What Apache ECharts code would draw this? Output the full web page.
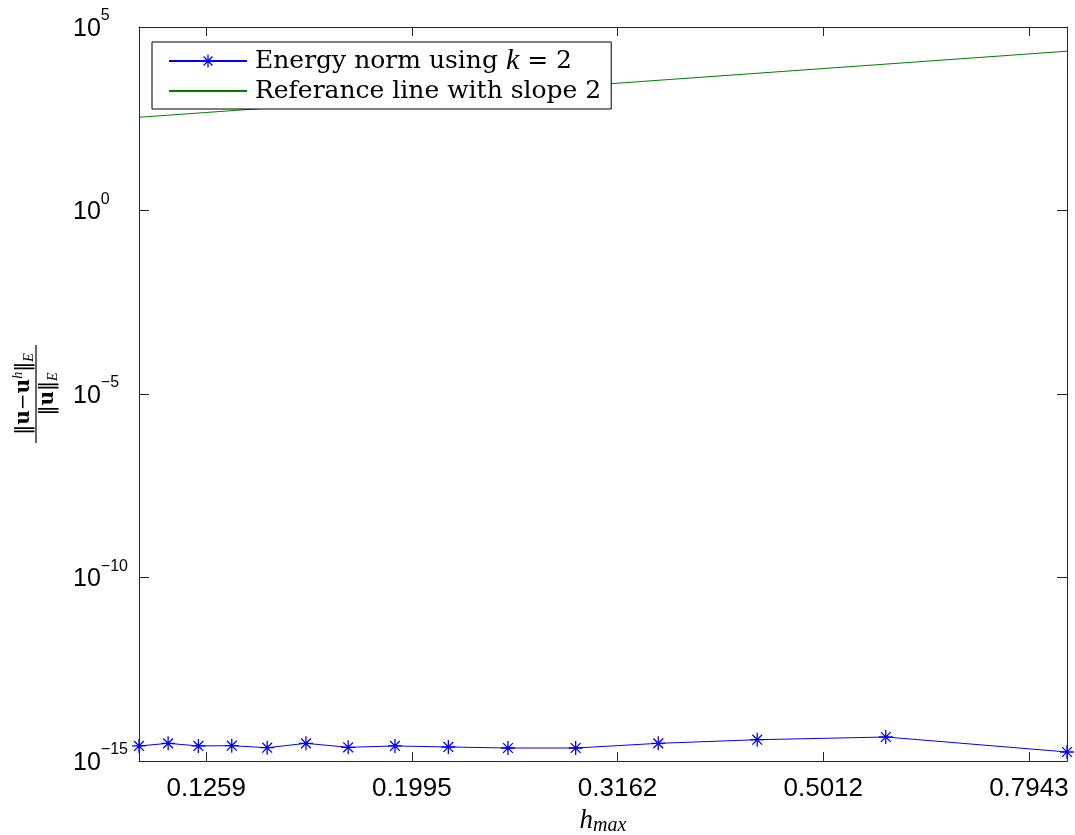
<!DOCTYPE html>
<html>
<head>
<meta charset="utf-8">
<script src="https://cdn.jsdelivr.net/npm/echarts@6/dist/echarts.min.js"></script>
<style>
  html, body { margin: 0; padding: 0; background: #fff; }
  #chart { width: 1075px; height: 835px; }
</style>
</head>
<body>
<div id="chart"></div>
<script>
// Mesh sizes h_max and relative energy-norm errors, k = 2
const hValues = [0.1083, 0.1156, 0.1237, 0.1333, 0.1443, 0.1574, 0.1730, 0.1921,
                 0.2165, 0.2474, 0.2879, 0.3464, 0.4323, 0.5765, 0.8650];
const errValues = [2.57e-15, 3.03e-15, 2.57e-15, 2.61e-15, 2.30e-15, 3.03e-15, 2.36e-15, 2.57e-15,
                   2.41e-15, 2.26e-15, 2.26e-15, 3.03e-15, 3.80e-15, 4.51e-15, 1.76e-15];
// Reference line with slope 2 (end points)
const refH = [0.1083, 0.8650];
const refValues = [347, 21900];
// Tick labels
const xTickLabels = ['0.1259', '0.1995', '0.3162', '0.5012', '0.7943'];
const yTickExponents = [-15, -10, -5, 0, 5];

const lg = Math.log10;
const SERIES_ERR = 'Energy norm using k = 2';
const SERIES_REF = 'Referance line with slope 2';

const xMin = lg(Math.min(...hValues, ...refH));
const xMax = lg(Math.max(...hValues, ...refH));
const yMin = yTickExponents[0];
const yMax = yTickExponents[yTickExponents.length - 1];
const yStep = yTickExponents[1] - yTickExponents[0];
const xTickPos = xTickLabels.map(s => lg(Number(s)));

const axisColor = '#262626';
const serif = 'DejaVu Serif';
const mathItalic = 'Liberation Serif';
const sans = 'Liberation Sans';
const asterisk = 'path://M5,0L5,10M0,5L10,5M1.5,1.5L8.5,8.5M1.5,8.5L8.5,1.5';

function xLabel(v) {
  let best = 0;
  xTickPos.forEach((p, i) => { if (Math.abs(p - v) < Math.abs(xTickPos[best] - v)) best = i; });
  return xTickLabels[best];
}
function yLabel(v) {
  const e = Math.round(v);
  return '{b|10}{s|' + (e < 0 ? '\u2212' + (-e) : e) + '}';
}

const baseX = {
  type: 'value', min: xMin, max: xMax,
  splitLine: { show: false },
  axisLine: { show: true, onZero: false, lineStyle: { color: axisColor, width: 1 } },
  axisTick: { show: true, inside: true, length: 9, customValues: xTickPos, lineStyle: { color: axisColor } }
};
const baseY = {
  type: 'value', min: yMin, max: yMax, interval: yStep,
  splitLine: { show: false },
  axisLine: { show: true, onZero: false, lineStyle: { color: axisColor, width: 1 } },
  axisTick: { show: true, inside: true, length: 10, lineStyle: { color: axisColor } }
};

const chart = echarts.init(document.getElementById('chart'), null, { renderer: 'canvas' });
chart.setOption({
  animation: false,
  backgroundColor: '#fff',
  grid: { left: 139, right: 8, top: 27, bottom: 74, containLabel: false, outerBoundsMode: 'none' },
  xAxis: [
    Object.assign({}, baseX, {
      position: 'bottom',
      axisLabel: {
        show: true, customValues: xTickPos, formatter: xLabel, margin: 15,
        color: '#000', fontFamily: sans, fontSize: 26
      },
      name: 'h{m|max}',
      nameLocation: 'middle',
      nameGap: 45,
      nameTextStyle: {
        fontFamily: mathItalic, fontStyle: 'italic', fontSize: 27, color: '#000',
        rich: { m: { fontFamily: mathItalic, fontStyle: 'italic', fontSize: 20, color: '#000', padding: [10, 0, 0, 0] } }
      }
    }),
    Object.assign({}, baseX, { position: 'top', axisLabel: { show: false } })
  ],
  yAxis: [
    Object.assign({}, baseY, {
      position: 'left',
      axisLabel: {
        show: true, formatter: yLabel, align: 'left', margin: 66, color: '#000',
        rich: {
          b: { fontFamily: sans, fontSize: 25, color: '#000', padding: [4, 0, 0, 0] },
          s: { fontFamily: sans, fontSize: 16, color: '#000', padding: [0, 0, 22, 0] }
        }
      }
    }),
    Object.assign({}, baseY, { position: 'right', axisLabel: { show: false } })
  ],
  legend: {
    orient: 'vertical',
    left: 152, top: 42,
    padding: [4, 10, 3, 16],
    backgroundColor: '#fff',
    borderColor: '#000',
    borderWidth: 1,
    borderRadius: 0,
    itemWidth: 78,
    itemHeight: 16,
    itemGap: 0,
    data: [
      { name: SERIES_ERR },
      { name: SERIES_REF, itemStyle: { opacity: 0 } }
    ],
    itemStyle: { borderWidth: 1.3 },
    formatter: name => name === SERIES_ERR ? 'Energy norm using {i|k} = 2' : name,
    textStyle: {
      fontFamily: serif, fontSize: 25, color: '#000', lineHeight: 30, padding: [0, 0, 0, 3],
      rich: { i: { fontFamily: mathItalic, fontStyle: 'italic', fontSize: 30, color: '#000', lineHeight: 30 } }
    }
  },
  graphic: [{
    type: 'group',
    x: 36, y: 394,
    rotation: Math.PI / 2,
    children: [
      {
        type: 'text', x: 0, y: -12,
        style: {
          text: '\u2016{b|u}\u2212{b|u}{p|h}\u2016{e|E}',
          fontFamily: serif, fontSize: 20, fill: '#000',
          align: 'center', verticalAlign: 'middle',
          rich: {
            b: { fontFamily: serif, fontWeight: 'bold', fontSize: 20 },
            p: { fontFamily: mathItalic, fontStyle: 'italic', fontSize: 14, padding: [0, 0, 12, 0] },
            e: { fontFamily: mathItalic, fontStyle: 'italic', fontSize: 14, padding: [10, 0, 0, 0] }
          }
        }
      },
      { type: 'line', shape: { x1: -49, y1: 0, x2: 49, y2: 0 }, style: { stroke: '#000', lineWidth: 1.2 } },
      {
        type: 'text', x: 0, y: 12,
        style: {
          text: '\u2016{b|u}\u2016{e|E}',
          fontFamily: serif, fontSize: 20, fill: '#000',
          align: 'center', verticalAlign: 'middle',
          rich: {
            b: { fontFamily: serif, fontWeight: 'bold', fontSize: 20 },
            e: { fontFamily: mathItalic, fontStyle: 'italic', fontSize: 14, padding: [10, 0, 0, 0] }
          }
        }
      }
    ]
  }],
  series: [
    {
      name: SERIES_ERR,
      type: 'line',
      xAxisIndex: 0, yAxisIndex: 0,
      data: hValues.map((h, i) => [lg(h), lg(errValues[i])]),
      symbol: asterisk,
      symbolSize: 14,
      showSymbol: true,
      lineStyle: { color: '#0000ff', width: 1 },
      itemStyle: { color: '#0000ff', borderColor: '#0000ff', borderWidth: 1.3 },
      emphasis: { disabled: true },
      z: 3
    },
    {
      name: SERIES_REF,
      type: 'line',
      xAxisIndex: 0, yAxisIndex: 0,
      data: refH.map((h, i) => [lg(h), lg(refValues[i])]),
      symbol: 'none',
      lineStyle: { color: '#008000', width: 1 },
      itemStyle: { color: '#008000' },
      emphasis: { disabled: true },
      z: 2
    }
  ]
});
</script>
</body>
</html>
